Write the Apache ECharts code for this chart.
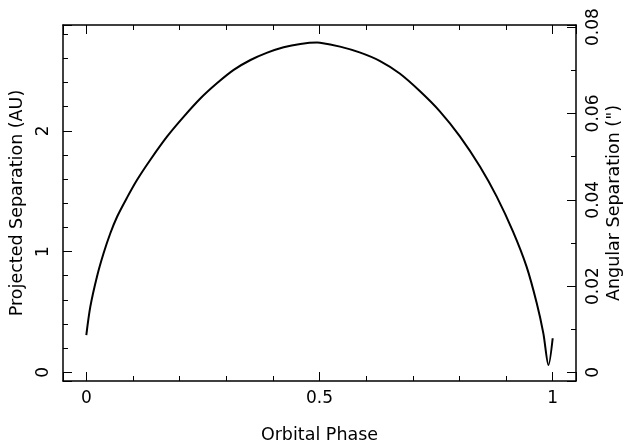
<!DOCTYPE html>
<html><head><meta charset="utf-8">
<script src="https://cdn.jsdelivr.net/npm/echarts@6/dist/echarts.min.js"></script>
<style>html,body{margin:0;padding:0;background:#fff}#c{width:625px;height:443px}</style>
</head><body><div id="c"></div>
<script>
const phase = [0, 0.0086, 0.0228, 0.037, 0.0515, 0.066, 0.087, 0.109, 0.137, 0.173, 0.209, 0.245, 0.280, 0.316, 0.352, 0.388, 0.423, 0.459, 0.495, 0.501, 0.544, 0.586, 0.629, 0.672, 0.715, 0.758, 0.801, 0.844, 0.880, 0.915, 0.944, 0.966, 0.980, 0.991, 1.0];
const separationAU = [0.309, 0.544, 0.792, 0.986, 1.152, 1.289, 1.445, 1.595, 1.759, 1.952, 2.118, 2.27, 2.394, 2.505, 2.587, 2.648, 2.693, 2.720, 2.731, 2.730, 2.698, 2.650, 2.580, 2.475, 2.330, 2.162, 1.955, 1.705, 1.455, 1.165, 0.875, 0.57, 0.323, 0.060, 0.282];
const xTitle = 'Orbital Phase';
const yLeftTitle = 'Projected Separation (AU)';
const yRightTitle = 'Angular Separation (")';

const FONT = 'DejaVu Sans';
const axisLineStyle = {color: '#000', width: 1.5};
const chart = echarts.init(document.getElementById('c'), null, {renderer: 'canvas'});
const tickStyle = {color: '#000', width: 1};
const baseX = {
  type: 'value', min: -0.05, max: 1.05, splitNumber: 2,
  axisLine: {show: true, onZero: false, lineStyle: axisLineStyle},
  axisTick: {show: true, inside: true, length: 9, lineStyle: tickStyle},
  minorTick: {show: true, splitNumber: 5, length: 5, lineStyle: tickStyle},
  splitLine: {show: false}, minorSplitLine: {show: false}
};
chart.setOption({
  animation: false,
  backgroundColor: '#fff',
  grid: {left: 63, right: 49, top: 25, bottom: 62, containLabel: false, outerBoundsMode: 'none'},
  xAxis: [
    Object.assign({}, baseX, {
      position: 'bottom',
      name: xTitle, nameLocation: 'middle', nameGap: 45,
      nameTextStyle: {fontFamily: FONT, fontSize: 17.5, color: '#000'},
      axisLabel: {show: true, margin: 9, fontFamily: FONT, fontSize: 17, color: '#000',
        showMinLabel: false, showMaxLabel: false}
    }),
    Object.assign({}, baseX, {position: 'top', axisLabel: {show: false}})
  ],
  yAxis: [
    {
      type: 'value', min: -0.072, max: 2.877, splitNumber: 3, position: 'left',
      name: yLeftTitle, nameLocation: 'middle', nameGap: 37, nameRotate: 90,
      nameTextStyle: {fontFamily: FONT, fontSize: 17.5, color: '#000'},
      axisLine: {show: true, onZero: false, lineStyle: axisLineStyle},
      axisTick: {show: true, inside: true, length: 9, lineStyle: tickStyle},
      minorTick: {show: true, splitNumber: 5, length: 5, lineStyle: tickStyle},
      splitLine: {show: false}, minorSplitLine: {show: false},
      axisLabel: {show: true, rotate: 90, margin: 11, fontFamily: FONT, fontSize: 17, color: '#000',
        showMinLabel: false, showMaxLabel: false}
    },
    {
      type: 'value', min: -0.002, max: 0.0805, splitNumber: 4, position: 'right',
      name: yRightTitle, nameLocation: 'middle', nameGap: 29, nameRotate: 90, nameMoveOverlap: false,
      nameTextStyle: {fontFamily: FONT, fontSize: 17.5, color: '#000'},
      axisLine: {show: true, onZero: false, lineStyle: axisLineStyle},
      axisTick: {show: true, inside: true, length: 9, lineStyle: tickStyle},
      minorTick: {show: true, splitNumber: 2, length: 5, lineStyle: tickStyle},
      splitLine: {show: false}, minorSplitLine: {show: false},
      axisLabel: {show: true, rotate: 90, margin: 9, fontFamily: FONT, fontSize: 17, color: '#000',
        showMinLabel: false, showMaxLabel: false}
    }
  ],
  series: [{
    type: 'line', xAxisIndex: 0, yAxisIndex: 0,
    data: phase.map((p, i) => [p, separationAU[i]]),
    showSymbol: false, smooth: 0.3,
    lineStyle: {color: '#000', width: 2}
  }]
});
</script>
</body></html>
